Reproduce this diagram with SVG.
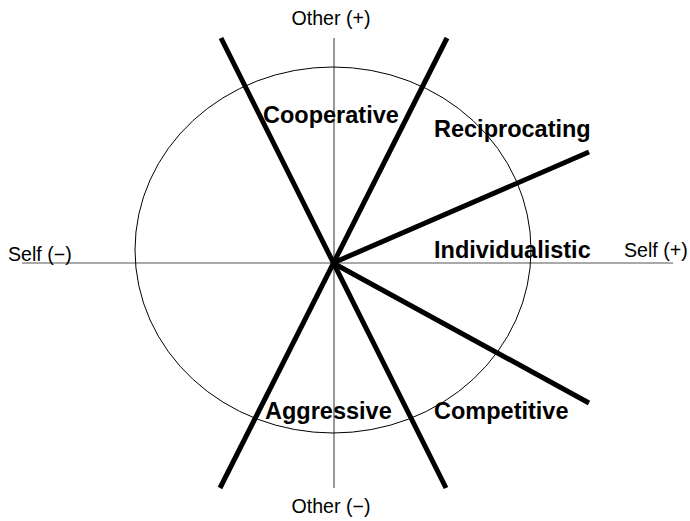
<svg xmlns="http://www.w3.org/2000/svg" width="690" height="521" viewBox="0 0 690 521">
<style>
.axis{stroke:#555;stroke-width:1.2;fill:none}
.ell{stroke:#000;stroke-width:1;fill:none}
.thick{stroke:#000;stroke-width:5;fill:none}
.lab{font-family:"Liberation Sans",Arial,sans-serif;font-size:19.6px;fill:#000}
.big{font-family:"Liberation Sans",Arial,sans-serif;font-size:23.5px;font-weight:bold;fill:#000}
</style>
<rect width="690" height="521" fill="#fff"/>
<g id="axes">
<line class="axis" x1="22" y1="263" x2="673" y2="263"/>
<line class="axis" x1="334" y1="38" x2="334" y2="488"/>
</g>
<g id="circle"><ellipse class="ell" cx="333" cy="250" rx="198" ry="183"/></g>
<g id="connectors">
<line class="thick" x1="221" y1="38" x2="446" y2="488"/>
<line class="thick" x1="447" y1="38" x2="220" y2="488"/>
<line class="thick" x1="333" y1="263" x2="589" y2="152"/>
<line class="thick" x1="333" y1="263" x2="589" y2="403"/>
</g>
<g id="other-plus"><text class="lab" x="331" y="25" text-anchor="middle">Other (+)</text></g>
<g id="other-minus"><text class="lab" x="331" y="513" text-anchor="middle">Other (−)</text></g>
<g id="self-minus"><text class="lab" x="8" y="261">Self (−)</text></g>
<g id="self-plus"><text class="lab" x="624" y="257">Self (+)</text></g>
<g id="cooperative"><text class="big" x="263" y="123">Cooperative</text></g>
<g id="reciprocating"><text class="big" x="434" y="137">Reciprocating</text></g>
<g id="individualistic"><text class="big" x="434" y="258">Individualistic</text></g>
<g id="aggressive"><text class="big" x="265" y="419">Aggressive</text></g>
<g id="competitive"><text class="big" x="434" y="419">Competitive</text></g>
</svg>
